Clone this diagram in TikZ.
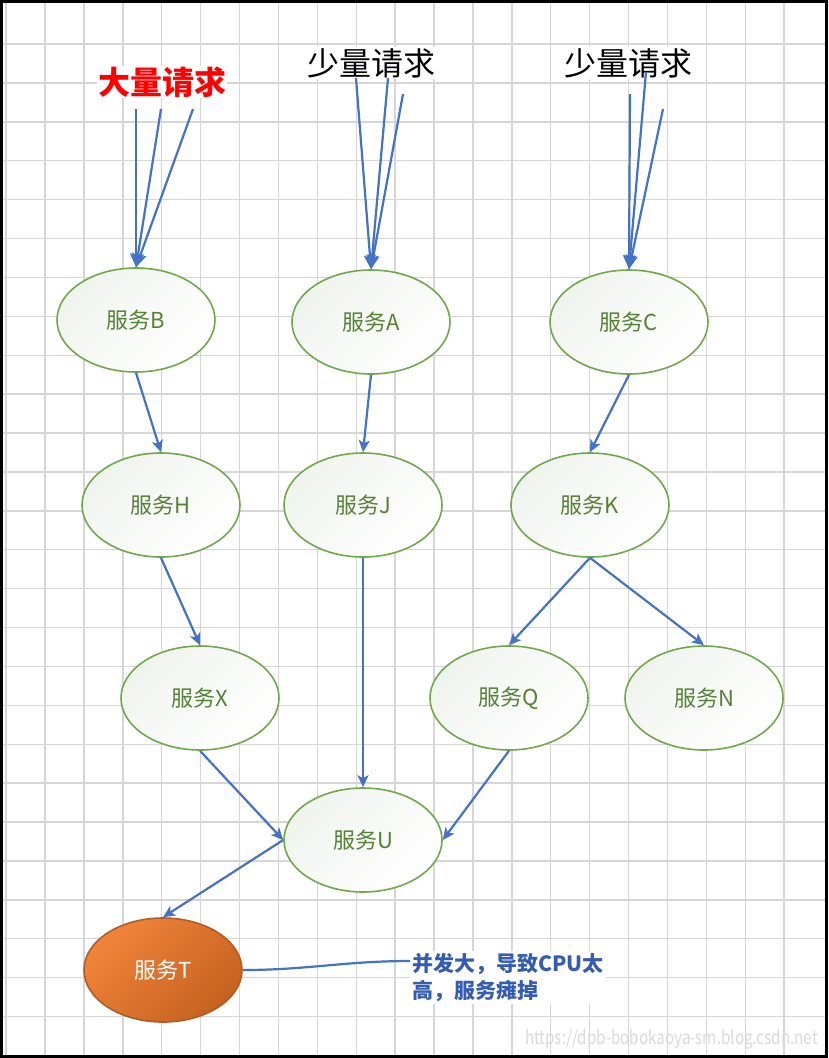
\documentclass[tikz,border=0pt]{standalone}
\usepackage{fontspec}
\setmainfont{Noto Sans CJK SC}
\usepackage{xcolor}
\usetikzlibrary{arrows.meta}
\usetikzlibrary{shapes.geometric}

\definecolor{gridgray}{RGB}{214,214,214}
\definecolor{flowblue}{RGB}{68,114,196}
\definecolor{svcline}{RGB}{112,168,76}
\definecolor{svctext}{RGB}{84,130,53}
\definecolor{svcshade}{RGB}{240,244,238}
\definecolor{hotlight}{RGB}{240,132,58}
\definecolor{hotdark}{RGB}{198,98,32}
\definecolor{hotline}{RGB}{178,92,36}
\definecolor{notetext}{RGB}{52,92,178}
\definecolor{marktext}{RGB}{218,218,218}

\begin{document}
\begin{tikzpicture}[x=1pt, y=-1pt,
    gridline/.style={draw=gridgray, line width=1.4pt},
    svc/.style={ellipse, draw=svcline, line width=1.6pt, top color=svcshade, bottom color=white, shading angle=45,
      minimum width=158pt, minimum height=104pt, inner sep=0pt, text=svctext, font=\fontsize{22pt}{26pt}\selectfont},
    hot/.style={draw=hotline, top color=hotlight, bottom color=hotdark, shading angle=45, text=white},
    flow/.style={draw=flowblue, line width=2.2pt, -{Stealth[length=12pt, width=11pt, inset=3pt]}},
    inflow/.style={draw=flowblue, line width=2.2pt, -{Stealth[length=14pt, width=12pt, inset=3pt]}},
    reqlabel/.style={fill=white, inner sep=1pt, font=\fontsize{32pt}{36pt}\selectfont}
  ]
  \useasboundingbox (0,0) rectangle (828,1058);
  \fill[white] (0,0) rectangle (828,1058);

  % grid paper
  \foreach \i in {0,...,20}
    \draw[gridline] ({6.1+38.9*\i},0) -- ({6.1+38.9*\i},1058);
  \foreach \i in {1,...,26}
    \draw[gridline] (0,{5.1+38.9*\i}) -- (828,{5.1+38.9*\i});
  \draw[line width=3pt] (1.5,1.5) rectangle (826.5,1056.5);

  % request labels
  \node[reqlabel, text=red, font=\fontsize{32pt}{36pt}\bfseries] (reqB) at (162,82) {大量请求};
  \node[reqlabel] (reqA) at (371,63) {少量请求};
  \node[reqlabel] (reqC) at (628,63) {少量请求};

  % services
  \node[svc] (B) at (136,320) {服务B};
  \node[svc] (A) at (371,322) {服务A};
  \node[svc] (C) at (629,322) {服务C};
  \node[svc] (H) at (161,505) {服务H};
  \node[svc] (J) at (363,505) {服务J};
  \node[svc] (K) at (590,505) {服务K};
  \node[svc] (X) at (200,698) {服务X};
  \node[svc] (Q) at (509,698) {服务Q};
  \node[svc] (N) at (704,698) {服务N};
  \node[svc] (U) at (363,840) {服务U};
  \node[svc, hot] (T) at (163,970) {服务T};

  \node[anchor=north west, fill=white, inner sep=2pt, align=left, text=notetext,
    font=\fontsize{21pt}{27pt}\bfseries] (note) at (410,951) {并发大，导致CPU太\\高，服务瘫掉};
  \node[anchor=east, inner sep=0pt, text=marktext, transform shape, xscale=0.8,
    font=\fontsize{19pt}{22pt}\selectfont] (mark) at (818,1039) {https://dpb-bobokaoya-sm.blog.csdn.net};

  % incoming requests
  \coordinate (b1) at (136,109);
  \coordinate (b2) at (161,109);
  \coordinate (b3) at (193,109);
  \coordinate (a1) at (356,78);
  \coordinate (a2) at (388,78);
  \coordinate (a3) at (403,94);
  \coordinate (c1) at (630,94);
  \coordinate (c2) at (646,72);
  \coordinate (c3) at (663,109);
  \foreach \s in {b1,b2,b3}
    \draw[inflow] (\s) -- (B.north);
  \foreach \s in {a1,a2,a3}
    \draw[inflow] (\s) -- (A.north);
  \foreach \s in {c1,c2,c3}
    \draw[inflow] (\s) -- (C.north);

  % call chain
  \draw[flow] (B.south) -- (H.north);
  \draw[flow] (A.south) -- (J.north);
  \draw[flow] (C.south) -- (K.north);
  \draw[flow] (H.south) -- (X.north);
  \draw[flow] (J.south) -- (U.north);
  \draw[flow] (K.south) -- (Q.north);
  \draw[flow] (K.south) -- (N.north);
  \draw[flow] (X.south) -- (U.west);
  \draw[flow] (Q.south) -- (U.east);
  \draw[flow] (U.west) -- (T.north);
  \draw[draw=flowblue, line width=2.2pt] (T.east) to[out=0, in=180] ([yshift=-10pt]note.north west);
\end{tikzpicture}
\end{document}
